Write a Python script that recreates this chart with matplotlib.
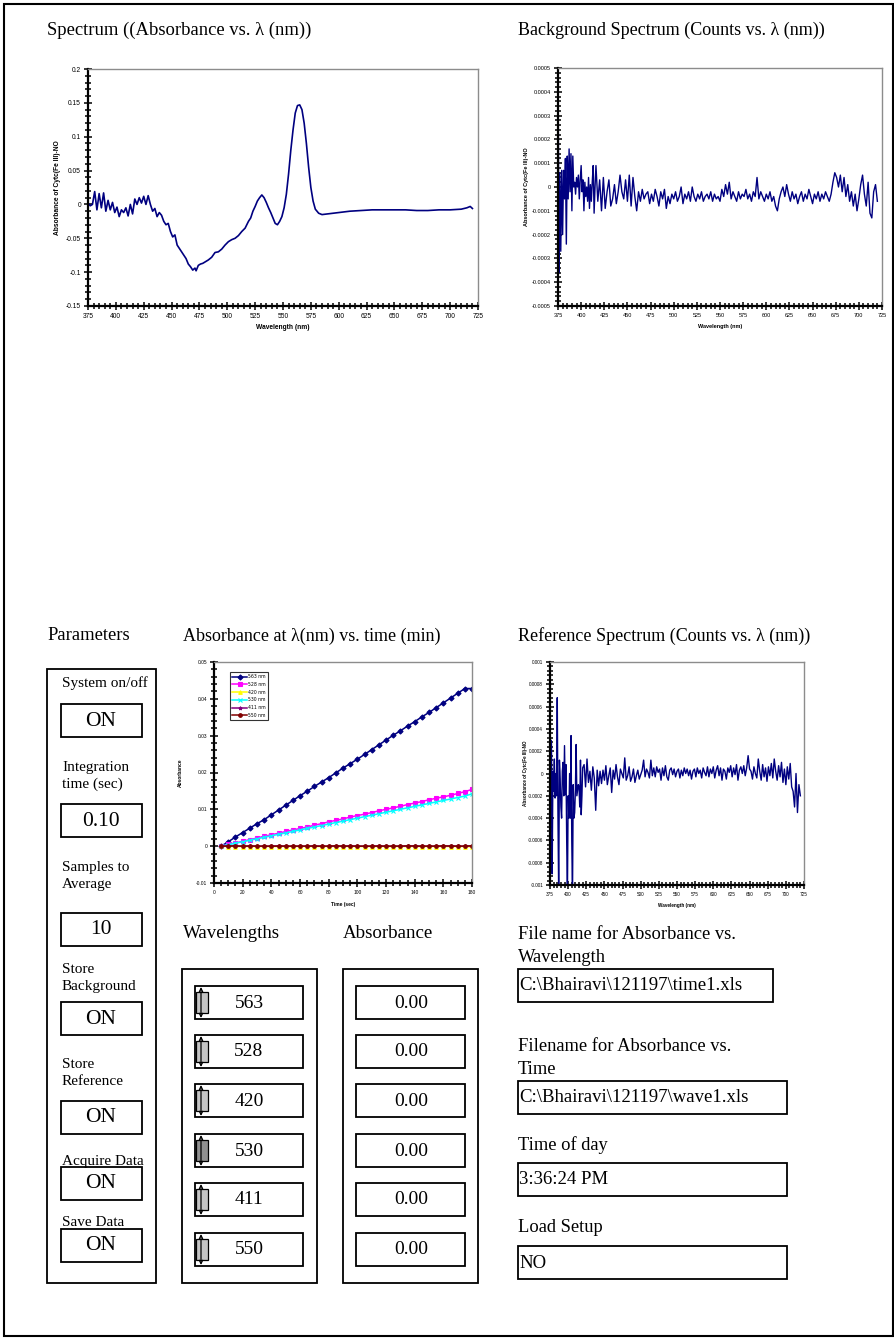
import numpy as np
import matplotlib
matplotlib.use("Agg")
import matplotlib.pyplot as plt
from matplotlib.patches import Rectangle
from matplotlib.ticker import FixedLocator, MultipleLocator, FuncFormatter

W, H = 895, 1339
SERIF = "Liberation Serif"
SANS = "Liberation Sans"
NAVY = "#000080"

# --- sample spectrum (absorbance) ---
spec_wl = [375, 377, 379, 381, 383, 385, 387, 389, 391, 393, 395, 397, 399, 401, 403,
           405, 407, 409, 411, 413, 415, 417, 419, 421, 423, 425, 427, 429, 431, 433,
           435, 437, 439, 441, 443, 445, 447, 449, 451, 453, 455, 457, 459, 461, 463,
           465, 467, 469, 471, 472, 474, 476, 478, 480, 483, 486, 489, 492, 495, 498,
           501, 504, 507, 510, 513, 516, 519, 521, 523, 525, 527, 529, 531, 533, 535,
           537, 539, 541, 543, 545, 547, 549, 551, 553, 555, 557, 559, 561, 563, 565,
           567, 569, 571, 573, 575, 577, 579, 582, 585, 590, 595, 600, 610, 620, 630,
           640, 650, 660, 670, 680, 690, 700, 710, 715, 718, 720]
spec_abs = [0.002, -0.002, 0.0, 0.019, -0.008, 0.016, -0.005, 0.017, -0.01, 0.006,
            -0.008, 0.003, -0.012, -0.004, -0.018, -0.008, -0.012, -0.005, -0.017, 0.0,
            -0.014, 0.008, 0.0, 0.01, 0.002, 0.012, 0.0, 0.013, 0.0, -0.01,
            -0.006, -0.018, -0.012, -0.016, -0.025, -0.03, -0.028, -0.04, -0.048, -0.045,
            -0.06, -0.065, -0.07, -0.075, -0.08, -0.088, -0.092, -0.097, -0.094, -0.098,
            -0.09, -0.088, -0.087, -0.085, -0.082, -0.078, -0.071, -0.07, -0.066, -0.06,
            -0.055, -0.052, -0.05, -0.046, -0.04, -0.035, -0.025, -0.02, -0.01, -0.003,
            0.005, 0.01, 0.014, 0.01, 0.003, -0.005, -0.012, -0.02, -0.028, -0.03,
            -0.025, -0.018, -0.005, 0.015, 0.045, 0.08, 0.11, 0.135, 0.146, 0.147,
            0.14, 0.12, 0.09, 0.055, 0.025, 0.005, -0.007, -0.013, -0.015, -0.014,
            -0.013, -0.012, -0.01, -0.009, -0.008, -0.008, -0.008, -0.008, -0.009, -0.009,
            -0.008, -0.008, -0.007, -0.005, -0.003, -0.006]

# --- background spectrum: 375-415 every 1 nm, then 416-720 every 2 nm ---
bg_head = [0.0006, -0.00036, 0.00006, -0.00027, 0.00007, -0.0002, 0.00007, -0.00005,
           0.00012, -0.00024, 0.00013, -0.00005, 0.00016, -0.00002, 0.00014, -0.0001,
           0.00013, 0.0, 0.00002, -0.00003, 0.00004, 0.0, 0.00005, -0.00005, 0.00003,
           0.00009, -0.00002, 0.00003, -0.0001, 0.00002, -0.00004, 0.0, -0.00006,
           0.00004, -0.00009, 0.00001, -0.00006, 0.00002, 0.00009, -0.00011, 0.0]
bg_tail = [0.00009, -0.00006, 0.00003, -0.00010, 0.00004, -0.00009, -0.00002, 0.00003, -0.00008, -0.00005,
           0.00001, -0.00007, -0.00002, 0.00005, -0.00002, -0.00005, 0.00003, -0.00006, 0.00005, -0.00008,
           0.00004, -0.00004, -0.00010, -0.00002, -0.00006, -0.00001, -0.00005, -0.00003, -0.00002, -0.00007,
           -0.00003, -0.00006, -0.00001, -0.00004, -0.00008, -0.00002, -0.00005, -0.00001, -0.00009, -0.00004,
           -0.00007, -0.00003, -0.00005, -0.00002, -0.00006, -0.00004, 0.00000, -0.00007, -0.00003, -0.00005,
           -0.00002, -0.00006, 0.00000, -0.00004, -0.00006, -0.00003, -0.00005, -0.00002, -0.00006, -0.00004,
           -0.00003, -0.00005, -0.00002, -0.00006, -0.00003, -0.00005, -0.00004, -0.00006, -0.00001, -0.00004,
           0.00001, -0.00003, 0.00002, -0.00005, -0.00002, -0.00004, -0.00006, -0.00002, -0.00005, -0.00003,
           -0.00004, -0.00001, -0.00005, -0.00003, -0.00006, -0.00002, -0.00004, 0.00004, -0.00005, -0.00002,
           -0.00004, -0.00006, -0.00003, -0.00005, -0.00002, -0.00006, -0.00004, -0.00008, -0.00010, -0.00005,
           -0.00002, 0.00000, -0.00004, 0.00001, -0.00003, -0.00006, -0.00002, -0.00005, -0.00003, -0.00007,
           -0.00004, -0.00002, -0.00006, -0.00003, -0.00005, -0.00001, -0.00004, -0.00007, -0.00003, -0.00005,
           -0.00002, -0.00006, -0.00003, -0.00005, -0.00002, -0.00004, -0.00006, -0.00003, 0.00002, 0.00006,
           0.00004, 0.00000, 0.00005, -0.00002, 0.00004, -0.00004, 0.00001, -0.00006, -0.00002, -0.00008,
           -0.00003, -0.00010, -0.00005, 0.00001, 0.00005, -0.00003, -0.00008, 0.00002, -0.00011, -0.00013,
           -0.00002, 0.00001, -0.00006]
bg_wl = list(range(375, 416)) + list(range(416, 721, 2))
bg_val = bg_head + bg_tail

# --- reference spectrum: 375-420 every 1 nm, then 422-720 every 2 nm ---
ref_head = [-0.0011, 0.00030, 0.00027, -0.00090, 0.00002, -0.00016, 0.00013, -0.00022,
            0.00000, -0.00020, 0.00068, -0.00040, -0.0011, 0.00012, -0.00005, -0.00030,
            -0.00040, 0.00002, 0.00010, -0.00020, 0.00025, -0.00019, 0.00008, -0.00060,
            -0.0011, -0.00020, -0.00040, 0.00000, -0.00040, 0.00034, -0.00060, -0.0011,
            -0.00010, -0.00040, -0.00035, -0.00015, 0.00026, -0.00020, -0.00015, -0.00010,
            -0.00012, -0.00030, 0.00012, -0.00037, -0.00020, 0.00005]
ref_tail = [0.00008, -0.00012, 0.00013, -0.00008, 0.00002, -0.00015, 0.00006, -0.00004, -0.00033, 0.00003,
            -0.00011, 0.00002, -0.00009, 0.00003, -0.00006, 0.00007, -0.00010, -0.00002, 0.00005, -0.00017,
            0.00003, -0.00005, 0.00008, -0.00003, -0.00010, 0.00004, 0.00000, -0.00004, 0.00014, -0.00006,
            -0.00002, 0.00006, -0.00007, -0.00003, 0.00004, -0.00008, -0.00002, 0.00003, -0.00005, -0.00001,
            0.00003, 0.00012, -0.00003, 0.00004, 0.00001, -0.00004, 0.00012, -0.00002, 0.00005, -0.00003,
            0.00006, 0.00001, 0.00004, -0.00006, 0.00005, -0.00002, 0.00007, -0.00003, -0.00006, 0.00003,
            0.00005, -0.00001, 0.00004, -0.00003, 0.00002, 0.00004, -0.00004, 0.00003, -0.00002, 0.00005,
            0.00000, 0.00004, -0.00002, 0.00003, -0.00005, 0.00002, 0.00004, -0.00003, 0.00005, 0.00000,
            0.00003, -0.00004, 0.00005, 0.00001, -0.00002, 0.00006, -0.00003, 0.00004, 0.00000, 0.00006,
            -0.00004, 0.00003, 0.00007, -0.00002, 0.00005, -0.00006, 0.00004, 0.00002, -0.00005, 0.00005,
            0.00001, 0.00007, -0.00003, 0.00005, -0.00001, 0.00008, -0.00006, 0.00003, 0.00006, 0.00000,
            0.00007, -0.00002, 0.00005, 0.00016, 0.00004, 0.00002, -0.00005, 0.00006, 0.00000, -0.00004,
            0.00013, 0.00002, -0.00006, 0.00008, -0.00003, 0.00005, -0.00007, 0.00006, -0.00002, 0.00009,
            -0.00004, 0.00013, 0.00002, -0.00006, 0.00007, -0.00003, 0.00010, -0.00008, 0.00004, -0.00010,
            0.00006, -0.00005, 0.00009, -0.00012, -0.00016, -0.00030, 0.00000, -0.00035, -0.00010, -0.00020]
ref_wl = list(range(375, 421)) + list(range(422, 721, 2))
ref_val = ref_head + ref_tail

# --- absorbance at fixed wavelengths vs time ---
time_s = list(range(5, 181, 5))
kin = {
    "563 nm": [0.0000, 0.0012, 0.0025, 0.0037, 0.0049, 0.0061, 0.0072, 0.0085, 0.0098, 0.0111,
               0.0124, 0.0137, 0.0149, 0.0162, 0.0174, 0.0186, 0.0199, 0.0212, 0.0224, 0.0236,
               0.0249, 0.0262, 0.0275, 0.0288, 0.0301, 0.0313, 0.0326, 0.0338, 0.0351, 0.0363,
               0.0376, 0.0389, 0.0402, 0.0415, 0.0428, 0.0428],
    "528 nm": [0.0000, 0.0005, 0.0009, 0.0013, 0.0018, 0.0022, 0.0027, 0.0031, 0.0035, 0.0040,
               0.0044, 0.0048, 0.0052, 0.0057, 0.0061, 0.0066, 0.0070, 0.0074, 0.0079, 0.0083,
               0.0087, 0.0091, 0.0096, 0.0100, 0.0104, 0.0108, 0.0113, 0.0117, 0.0121, 0.0126,
               0.0130, 0.0134, 0.0138, 0.0143, 0.0148, 0.0154],
    "420 nm": [0.0000, -0.0001, -0.0001, -0.0001, -0.0001, -0.0001, -0.0001, -0.0001, -0.0001, -0.0001,
               -0.0001, -0.0001, -0.0001, -0.0001, -0.0001, -0.0001, -0.0001, -0.0001, -0.0001, -0.0001,
               -0.0001, -0.0001, -0.0001, -0.0001, -0.0001, -0.0001, -0.0001, -0.0001, -0.0001, -0.0001,
               -0.0001, -0.0001, -0.0001, -0.0001, -0.0001, -0.0002],
    "530 nm": [0.0000, 0.0004, 0.0008, 0.0012, 0.0016, 0.0020, 0.0024, 0.0028, 0.0032, 0.0036,
               0.0040, 0.0044, 0.0048, 0.0052, 0.0056, 0.0060, 0.0064, 0.0068, 0.0072, 0.0076,
               0.0080, 0.0084, 0.0088, 0.0092, 0.0096, 0.0100, 0.0104, 0.0108, 0.0112, 0.0116,
               0.0120, 0.0124, 0.0128, 0.0132, 0.0136, 0.0142],
    "411 nm": [0.0000, 0.0001, 0.0000, 0.0000, 0.0001, 0.0000, 0.0000, 0.0000, 0.0001, 0.0000,
               0.0000, 0.0000, 0.0000, 0.0001, 0.0000, 0.0000, 0.0000, 0.0000, 0.0001, 0.0000,
               0.0000, 0.0000, 0.0001, 0.0000, 0.0000, 0.0000, 0.0000, 0.0001, 0.0000, 0.0000,
               0.0000, 0.0000, 0.0001, 0.0000, 0.0000, 0.0001],
    "550 nm": [0.0000, 0.0000, 0.0001, 0.0000, 0.0000, 0.0000, 0.0000, 0.0000, 0.0000, 0.0000,
               0.0000, 0.0000, 0.0000, 0.0000, 0.0000, 0.0000, 0.0001, 0.0000, 0.0000, 0.0000,
               0.0000, 0.0000, 0.0000, 0.0000, 0.0000, 0.0000, 0.0001, 0.0000, 0.0000, 0.0000,
               0.0000, 0.0001, 0.0000, 0.0000, 0.0000, 0.0001],
}
kin_colors = ["#000080", "#ff00ff", "#ffff00", "#00ffff", "#800080", "#800000"]
kin_markers = ["D", "s", "^", "x", "*", "o"]

# --- front panel values ---
param_labels = ["System on/off", "Integration\ntime (sec)", "Samples to\nAverage",
                "Store\nBackground", "Store\nReference", "Acquire Data", "Save Data"]
param_values = ["ON", "0.10", "10", "ON", "ON", "ON", "ON"]
wavelengths = ["563", "528", "420", "530", "411", "550"]
absorbances = ["0.00", "0.00", "0.00", "0.00", "0.00", "0.00"]
file_labels = ["File name for Absorbance vs.\nWavelength", "Filename for Absorbance vs.\nTime",
               "Time of day", "Load Setup"]
file_values = ["C:\\Bhairavi\\121197\\time1.xls", "C:\\Bhairavi\\121197\\wave1.xls",
               "3:36:24 PM", "NO"]

wl_ticks = list(range(375, 726, 25))

fig = plt.figure(figsize=(W / 100, H / 100), dpi=100)
panel = fig.add_axes([0, 0, 1, 1])
panel.set_xlim(0, W)
panel.set_ylim(H, 0)
panel.axis("off")


def box(x0, y0, x1, y1, lw=1.3):
    panel.add_patch(Rectangle((x0, y0), x1 - x0, y1 - y0, fill=False, ec="black", lw=lw))


def label(x, y, s, size, ha="left", ls=1.0):
    panel.text(x, y, s, fontsize=size, family=SERIF, ha=ha, va="center", linespacing=ls)


# page frame
box(4, 4, 893, 1336, lw=1.5)

# section titles
label(47, 30, "Spectrum ((Absorbance vs. λ (nm))", 13.4)
label(518, 30, "Background Spectrum (Counts vs. λ (nm))", 13.0)
label(47, 636, "Parameters", 13.4)
label(183, 636, "Absorbance at λ(nm) vs. time (min)", 13.0)
label(518, 636, "Reference Spectrum (Counts vs. λ (nm))", 13.0)
label(183, 933, "Wavelengths", 13.6)
label(343, 933, "Absorbance", 13.6)

# parameters column
box(47, 669, 156, 1283)
param_text_y = [683, 776, 876, 978, 1073, 1161, 1222]
param_box_y = [704, 804, 913, 1002, 1101, 1167, 1229]
for s, v, ty, by in zip(param_labels, param_values, param_text_y, param_box_y):
    label(62, ty, s, 11, ls=1.4)
    box(61, by, 142, by + 33)
    label(101, by + 17, v, 15.5, ha="center")

# wavelength / absorbance lists
box(182, 969, 317, 1283)
box(343, 969, 478, 1283)
row_y = [986, 1035, 1084, 1134, 1183, 1233]
for wv, ab, y0 in zip(wavelengths, absorbances, row_y):
    box(195, y0, 303, y0 + 33)
    shade = "#909090" if wv == "530" else "#c4c4c4"
    panel.add_patch(Rectangle((196, y0 + 6), 12, 21, fc=shade, ec="black", lw=0.9))
    panel.annotate("", xy=(201, y0 + 1), xytext=(201, y0 + 32),
                   arrowprops=dict(arrowstyle="<->", lw=0.9, color="black",
                                   shrinkA=0, shrinkB=0, mutation_scale=6))
    label(249, y0 + 17, wv, 14, ha="center")
    box(356, y0, 465, y0 + 33)
    label(411, y0 + 17, ab, 14, ha="center")

# file / time fields
file_text_y = [946, 1058, 1145, 1227]
file_box = [(969, 773), (1081, 787), (1163, 787), (1246, 787)]
for s, v, ty, (by, bx1) in zip(file_labels, file_values, file_text_y, file_box):
    label(518, ty, s, 13.3, ls=1.45)
    box(518, by, bx1, by + 33)
    label(519, by + 17, v, 13.5)


def tick_fmt(v, pos):
    return f"{round(v, 6) + 0.0:g}"


def chart(left, top, right, bottom, xlim, yticks, xmaj, xmin, ymin, fs, xlab, ylab, lx, ly):
    ax = fig.add_axes([left / W, 1 - bottom / H, (right - left) / W, (bottom - top) / H])
    ax.set_xlim(*xlim)
    ax.set_ylim(yticks[0], yticks[-1])
    ax.xaxis.set_major_locator(FixedLocator(xmaj))
    ax.xaxis.set_minor_locator(MultipleLocator(xmin))
    ax.yaxis.set_major_locator(FixedLocator(yticks))
    ax.yaxis.set_minor_locator(MultipleLocator(ymin))
    ax.yaxis.set_major_formatter(FuncFormatter(tick_fmt))
    for side in ("left", "bottom"):
        ax.spines[side].set_linewidth(1.6)
        ax.spines[side].set_color("black")
    for side in ("top", "right"):
        ax.spines[side].set_linewidth(1.0)
        ax.spines[side].set_color("#8c8c8c")
    ax.tick_params(which="major", direction="inout", length=6, width=1.1, pad=2)
    ax.tick_params(which="minor", direction="inout", length=5, width=1.1)
    ax.tick_params(labelsize=fs)
    for t in ax.get_xticklabels() + ax.get_yticklabels():
        t.set_family(SANS)
    ax.set_xlabel(xlab, fontsize=fs, fontweight="bold", family=SANS)
    ax.set_ylabel(ylab, fontsize=fs, fontweight="bold", family=SANS)
    ax.xaxis.set_label_coords(0.5, lx)
    ax.yaxis.set_label_coords(ly, 0.5)
    return ax


ylab_abs = "Absorbance of Cytc(Fe III)-NO"

ax1 = chart(88, 69, 478, 306, (375, 725),
            [-0.15, -0.1, -0.05, 0, 0.05, 0.1, 0.15, 0.2], wl_ticks, 5, 0.01, 4.8,
            "Wavelength (nm)", ylab_abs, -0.075, -0.068)
ax1.plot(spec_wl, spec_abs, color=NAVY, lw=1.2)

ax2 = chart(558, 68, 882, 306, (375, 725),
            [-0.0005, -0.0004, -0.0003, -0.0002, -0.0001, 0, 0.0001, 0.0002, 0.0003,
             0.0004, 0.0005], wl_ticks, 5, 0.00002, 4.0,
            "Wavelength (nm)", ylab_abs, -0.075, -0.09)
ax2.plot(bg_wl, bg_val, color=NAVY, lw=1.0)

ax3 = chart(214, 662, 472, 883, (0, 180),
            [-0.01, 0, 0.01, 0.02, 0.03, 0.04, 0.05], list(range(0, 181, 20)), 5, 0.002, 3.5,
            "Time (sec)", "Absorbance", -0.085, -0.12)
for (name, vals), c, m in zip(kin.items(), kin_colors, kin_markers):
    ax3.plot(time_s, vals, color=c, marker=m, ms=2.6, lw=1.1, mew=0.8, label=name)
leg = ax3.legend(loc="upper left", bbox_to_anchor=(0.062, 0.955), fontsize=3.3,
                 frameon=True, fancybox=False, edgecolor="black", handlelength=3.2,
                 borderpad=0.5, labelspacing=0.6, handletextpad=0.2, borderaxespad=0)
leg.get_frame().set_linewidth(0.8)

ax4 = chart(550, 662, 804, 885, (375, 725),
            [-0.001, -0.0008, -0.0006, -0.0004, -0.0002, 0, 0.0002, 0.0004, 0.0006,
             0.0008, 0.001], wl_ticks, 5, 0.00004, 3.3,
            "Wavelength (nm)", ylab_abs, -0.08, -0.087)
ax4.plot(ref_wl, ref_val, color=NAVY, lw=1.0)

fig.savefig("out.png", dpi=100)
